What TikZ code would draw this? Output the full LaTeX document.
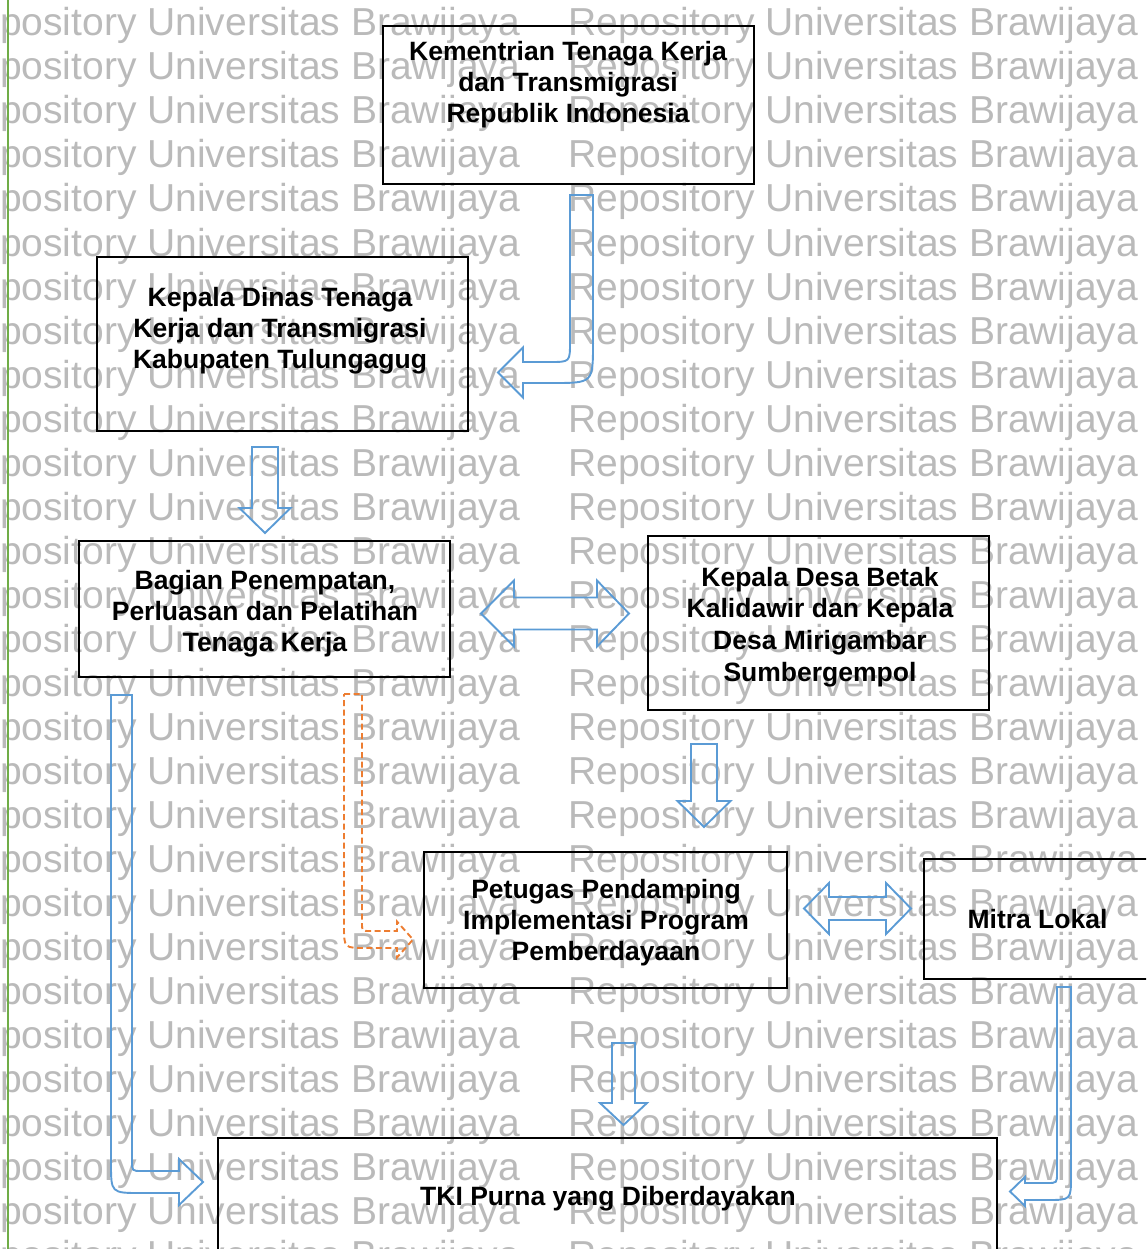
\documentclass[tikz,border=0pt]{standalone}
\usepackage{fontspec}
\setmainfont{Liberation Sans}
\definecolor{blueline}{RGB}{91,155,213}
\definecolor{orangeline}{RGB}{237,125,49}
\definecolor{greenline}{RGB}{112,173,71}
\definecolor{wmgray}{RGB}{186,186,186}

% straight block arrow pointing down: x, top, head base, tip, shaft half width, head half width
\newcommand\DownBlock[6]{%
  \draw[flow] ({#1-#5},#2) -- ({#1+#5},#2) -- ({#1+#5},#3) -- ({#1+#6},#3)
    -- (#1,#4) -- ({#1-#6},#3) -- ({#1-#5},#3) -- cycle;}
% horizontal double block arrow: y, left tip, left base, right base, right tip, shaft half, head half
\newcommand\BothBlock[7]{%
  \draw[flow] (#2,#1) -- (#3,{#1-#7}) -- (#3,{#1-#6}) -- (#4,{#1-#6}) -- (#4,{#1-#7})
    -- (#5,#1) -- (#4,{#1+#7}) -- (#4,{#1+#6}) -- (#3,{#1+#6}) -- (#3,{#1+#7}) -- cycle;}

\begin{document}
\begin{tikzpicture}[x=1pt,y=-1pt,
  box/.style={draw=black, line width=2.4pt, inner sep=0pt},
  lbl/.style={font=\bfseries\fontsize{26.5}{31}\selectfont, align=center, inner sep=0pt},
  wm/.style={font=\fontsize{39}{39}\selectfont, text=wmgray, inner sep=0pt, anchor=base west},
  flow/.style={draw=blueline, line width=1.9pt, line join=miter},
  dflow/.style={draw=orangeline, line width=1.9pt, dash pattern=on 6pt off 3.5pt}]

\useasboundingbox (0,0) rectangle (1146,1249);
\clip (0,0) rectangle (1146,1249);

% repeated repository watermark
\foreach \k in {0,...,28} {
  \node[wm] (wmL\k) at (-50,{36+44*\k}) {Repository Universitas Brawijaya};
  \node[wm] (wmR\k) at (568,{36+44*\k}) {Repository Universitas Brawijaya};
}

% page margin rule
\draw[greenline, line width=1.5pt] (8,0) -- (8,1249);

% boxes
\node[box, minimum width=371, minimum height=158] (kem)     at (568.5,105) {};
\node[box, minimum width=371, minimum height=174] (kadis)   at (282.5,344) {};
\node[box, minimum width=371, minimum height=136] (bagian)  at (264.5,609) {};
\node[box, minimum width=341, minimum height=174] (kades)   at (818.5,623) {};
\node[box, minimum width=363, minimum height=136] (petugas) at (605.5,920) {};
\node[box, minimum width=246, minimum height=120] (mitra)   at (1047,919) {};
\node[box, minimum width=779, minimum height=152] (tki)     at (607.5,1214) {};

% box texts
\node[lbl] (kemtxt)     at (568,84.5)  {Kementrian Tenaga Kerja\\dan Transmigrasi\\Republik Indonesia};
\node[lbl] (kadistxt)   at (280,331)   {Kepala Dinas Tenaga\\Kerja dan Transmigrasi\\Kabupaten Tulungagug};
\node[lbl] (bagiantxt)  at (265,613.5) {Bagian Penempatan,\\Perluasan dan Pelatihan\\Tenaga Kerja};
\node[lbl, font=\bfseries\fontsize{26.5}{31.6}\selectfont] (kadestxt) at (820,627) {Kepala Desa Betak\\Kalidawir dan Kepala\\Desa Mirigambar\\Sumbergempol};
\node[lbl] (petugastxt) at (606,922.5) {Petugas Pendamping\\Implementasi Program\\Pemberdayaan};
\node[lbl] (mitratxt)   at (1037.5,919.5) {Mitra Lokal};
\node[lbl] (tkitxt)     at (608,1199)  {TKI Purna yang Diberdayakan};

% bent arrow: ministry -> regency office
\draw[flow] (570,195) -- (593,195) -- (593,343) .. controls (593,383) .. (553,383)
  -- (523,383) -- (523,397.5) -- (498,372.5) -- (523,347.5) -- (523,362)
  -- (550,362) .. controls (570,362) .. (570,342) -- cycle;

% regency office -> placement section
\DownBlock{265}{447}{508}{533}{13}{25.5}

% placement section <-> village heads
\BothBlock{613.5}{481}{514}{597}{629}{16}{33}

% village heads -> field officers
\DownBlock{704}{744}{801}{827}{13}{26.5}

% field officers <-> local partners
\BothBlock{908.5}{804}{829}{886}{911}{11.5}{25.5}

% field officers -> empowered returnees
\DownBlock{623.5}{1043}{1103}{1125}{11.5}{23.5}

% placement section -> field officers (dashed)
\draw[dflow] (344,694) -- (362,694) -- (362,923) .. controls (362,931) .. (370,931)
  -- (397,931) -- (397,921.5) -- (413,939.5) -- (397,957.5) -- (397,948)
  -- (366,948) .. controls (344,948) .. (344,926) -- cycle;

% placement section -> empowered returnees
\draw[flow] (111,695) -- (132,695) -- (132,1161) .. controls (132,1171) .. (142,1171)
  -- (179,1171) -- (179,1159) -- (203,1182) -- (179,1205) -- (179,1193)
  -- (141,1193) .. controls (111,1193) .. (111,1163) -- cycle;

% local partners -> empowered returnees
\draw[flow] (1057,987) -- (1071,987) -- (1071,1176) .. controls (1071,1200) .. (1047,1200)
  -- (1025,1200) -- (1025,1206) -- (1010,1191.5) -- (1025,1177) -- (1025,1183)
  -- (1047,1183) .. controls (1057,1183) .. (1057,1173) -- cycle;

\end{tikzpicture}
\end{document}
